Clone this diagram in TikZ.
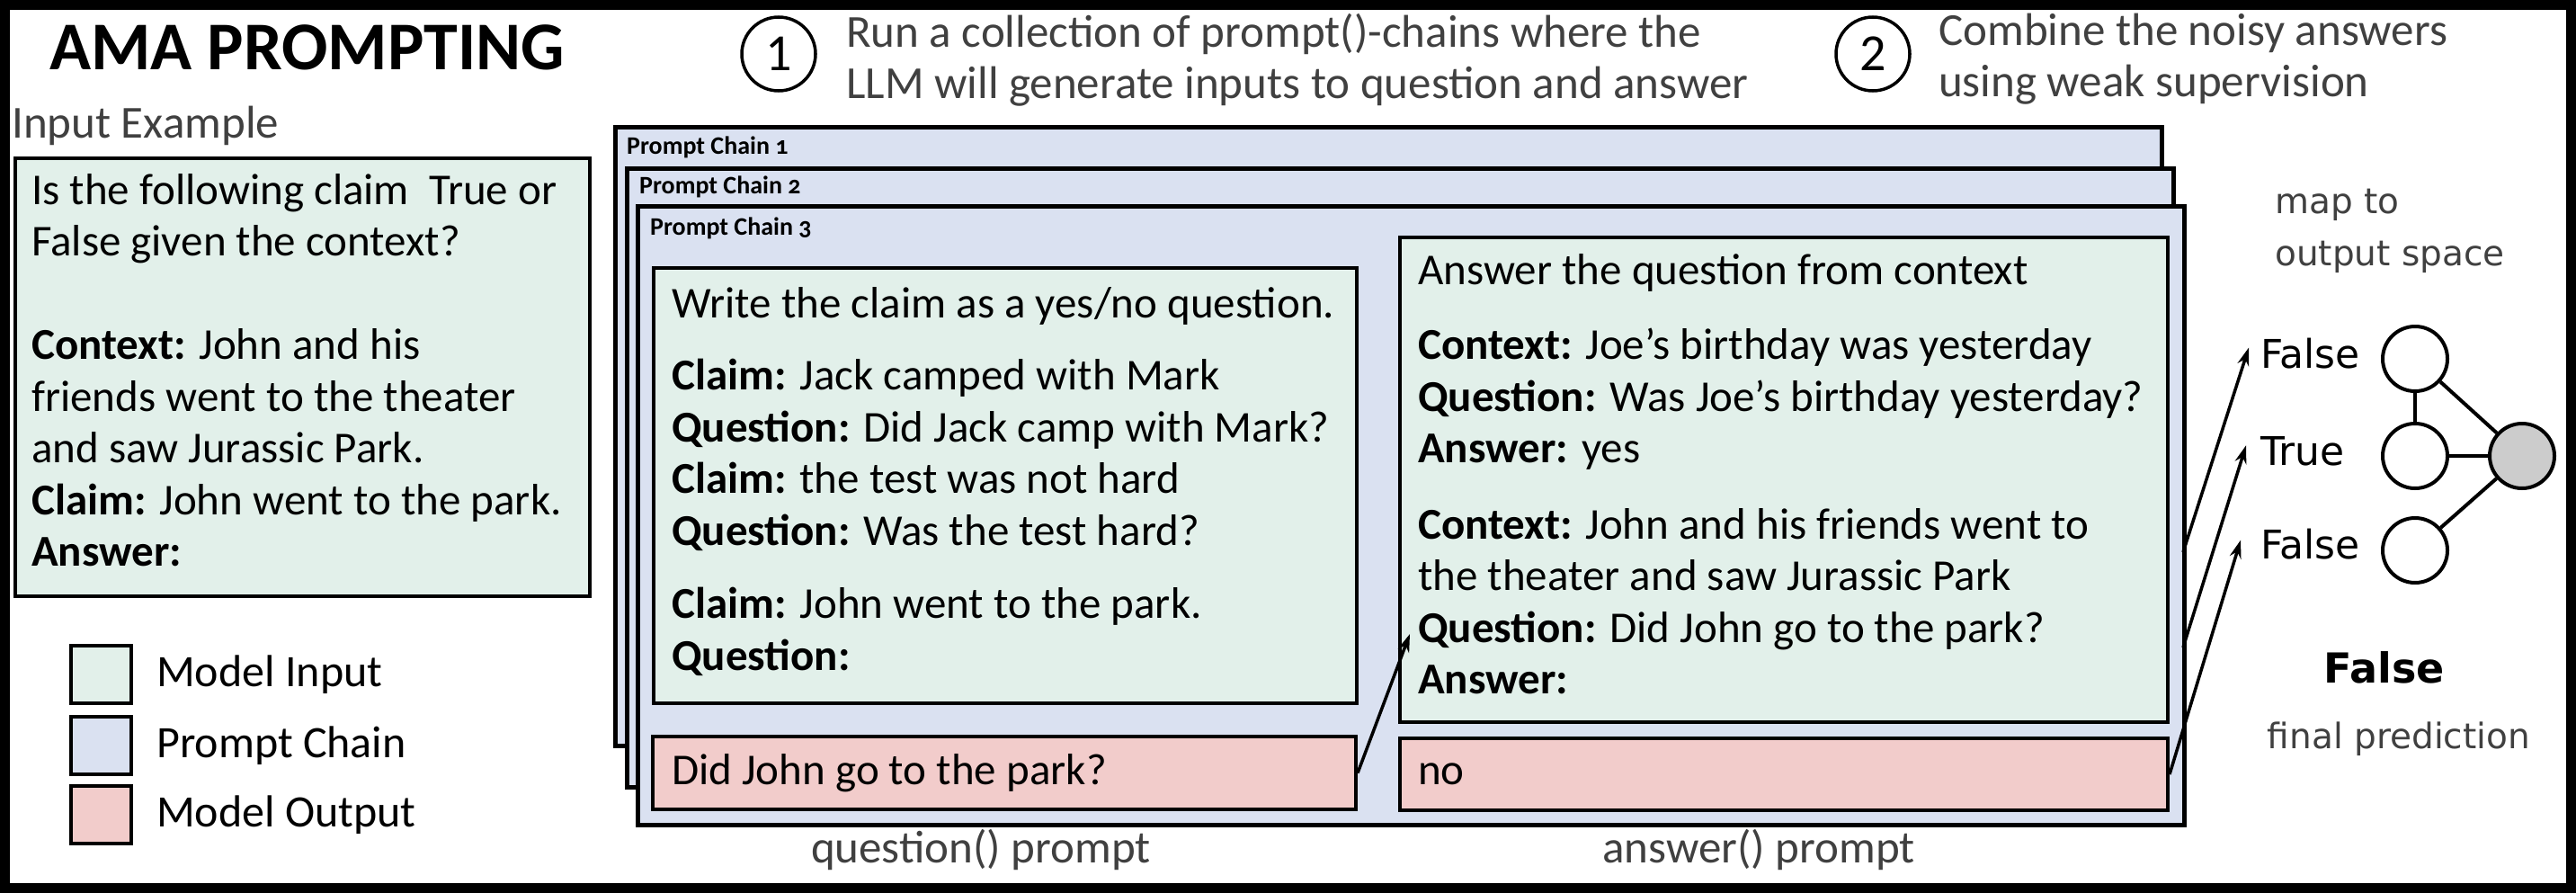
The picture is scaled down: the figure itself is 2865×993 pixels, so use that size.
\documentclass[tikz,border=0pt]{standalone}
\usepackage{fontspec}
\setmainfont{Carlito}
\newfontfamily\dejavu{DejaVu Sans}
\newfontfamily\chainfont[Numbers=OldStyle]{Carlito}
\usetikzlibrary{arrows.meta,positioning,calc}
\definecolor{inputcol}{HTML}{E2F0EA}
\definecolor{chaincol}{HTML}{DAE1F1}
\definecolor{outputcol}{HTML}{F2CCCB}
\definecolor{notecol}{HTML}{404040}
\definecolor{votecol}{HTML}{CCCCCC}
\newcommand{\bodysize}{\fontsize{49}{57.5}\selectfont}

\begin{document}
\begin{tikzpicture}[
  x=1pt, y=-1pt, >={Stealth[length=20pt,width=13pt]},
  txt/.style={font=\bodysize, inner sep=0pt, align=left},
  note/.style={font=\fontsize{51}{57}\selectfont, text=notecol, inner sep=0pt, align=left},
  panel/.style={draw, line width=4pt, anchor=north west, inner sep=0pt},
  inbox/.style={panel, fill=inputcol},
  outbox/.style={panel, fill=outputcol},
  chainbox/.style={panel, line width=4.5pt, fill=chaincol},
  chainlabel/.style={font=\chainfont\bfseries\fontsize{28}{30}\selectfont, inner sep=0pt, anchor=west},
  numcirc/.style={draw, circle, line width=3.5pt, minimum size=82pt, inner sep=0pt, font=\fontsize{58}{58}\selectfont},
  vote/.style={draw, circle, line width=4pt, minimum size=72pt, inner sep=0pt},
  side/.style={font=\dejavu\fontsize{39}{58}\selectfont, text=notecol, inner sep=0pt, align=left},
  lab/.style={font=\dejavu\fontsize{44}{50}\selectfont, inner sep=0pt, anchor=base west},
  flow/.style={->, line width=3.5pt}
]
\useasboundingbox (0,0) rectangle (2865,993);
\draw[line width=11pt] (5.5,5.5) rectangle (2859.5,987.5);

\node[font=\bfseries\fontsize{76}{80}\selectfont, anchor=base west, inner sep=0pt] (title) at (55,77) {AMA PROMPTING};

\node[numcirc] (stepA) at (866,60) {1};
\node[note, anchor=north west] (stepAtext) at (941,15) {Run a collection of prompt()-chains where the\\LLM will generate inputs to question and answer};
\node[numcirc] (stepB) at (2083,60) {2};
\node[note, anchor=north west] (stepBtext) at (2156,15) {Combine the noisy answers\\using weak supervision};

\node[note, anchor=base west] (inputlabel) at (13,153) {Input Example};
\node[inbox, minimum width=639pt, minimum height=487pt] (inputbox) at (15,174) {};
\node[txt, anchor=north west] (inputtext) at ([xshift=20pt,yshift=-19pt]inputbox.north west)
  {Is the following claim~ True or\\False given the context?\\[57.5pt]
   \textbf{Context:} John and his\\friends went to the theater\\and saw Jurassic Park.\\
   \textbf{Claim:} John went to the park.\\\textbf{Answer:}};

\node[inbox, minimum width=67pt, minimum height=64pt] (keyinput) at (77,716) {};
\node[panel, fill=chaincol, minimum width=67pt, minimum height=64pt] (keychain) at (77,795) {};
\node[outbox, minimum width=67pt, minimum height=64pt] (keyoutput) at (77,872) {};
\node[txt, font=\fontsize{50}{55}\selectfont, right=26pt of keyinput] (keyinputlabel) {Model Input};
\node[txt, font=\fontsize{50}{55}\selectfont, right=26pt of keychain] (keychainlabel) {Prompt Chain};
\node[txt, font=\fontsize{50}{55}\selectfont, right=26pt of keyoutput] (keyoutputlabel) {Model Output};

\node[chainbox, minimum width=1720pt, minimum height=688pt] (chainA) at (682,139) {};
\node[chainlabel] (chainAlabel) at ([xshift=15pt,yshift=-25pt]chainA.north west) {Prompt Chain 1};
\node[chainbox, minimum width=1720pt, minimum height=688pt] (chainB) at (695,185) {};
\node[chainlabel] (chainBlabel) at ([xshift=16pt,yshift=-23pt]chainB.north west) {Prompt Chain 2};
\node[chainbox, minimum width=1720pt, minimum height=688pt] (chainC) at (707,227) {};
\node[chainlabel] (chainClabel) at ([xshift=16pt,yshift=-27pt]chainC.north west) {Prompt Chain 3};

\node[inbox, minimum width=782pt, minimum height=484pt] (qbox) at (725,296) {};
\node[txt, anchor=north west] (qtext) at ([xshift=22pt,yshift=-23pt]qbox.north west)
  {Write the claim as a yes/no question.\\[23pt]
   \textbf{Claim:} Jack camped with Mark\\\textbf{Question:} Did Jack camp with Mark?\\
   \textbf{Claim:} the test was not hard\\\textbf{Question:} Was the test hard?\\[24pt]
   \textbf{Claim:} John went to the park.\\\textbf{Question:}};
\node[outbox, minimum width=782pt, minimum height=81pt] (qout) at (724,817) {};
\node[txt, anchor=west] (qouttext) at ([xshift=23pt]qout.west) {Did John go to the park?};

\node[inbox, minimum width=854pt, minimum height=539pt] (abox) at (1555,262) {};
\node[txt, anchor=north west] (atext) at ([xshift=22pt,yshift=-20pt]abox.north west)
  {Answer the question from context\\[26pt]
   \textbf{Context:} Joe’s birthday was yesterday\\\textbf{Question:} Was Joe’s birthday yesterday?\\
   \textbf{Answer:} yes\\[27pt]
   \textbf{Context:} John and his friends went to\\the theater and saw Jurassic Park\\
   \textbf{Question:} Did John go to the park?\\\textbf{Answer:}};
\node[outbox, minimum width=854pt, minimum height=80pt] (aout) at (1555,819) {};
\node[txt, anchor=west] (aouttext) at ([xshift=22pt]aout.west) {no};

\node[note, anchor=base] (qlabel) at (1091,959) {question() prompt};
\node[note, anchor=base] (alabel) at (1956,959) {answer() prompt};

\node[side, anchor=north west] (maplabel) at (2530,210) {map to\\output space};
\node[lab] (labA) at (2514,409) {False};
\node[lab] (labB) at (2514,517) {True};
\node[lab] (labC) at (2514,621) {False};
\node[vote] (voteA) at (2686,399) {};
\node[vote] (voteB) at (2686,507) {};
\node[vote] (voteC) at (2686,612) {};
\node[vote, fill=votecol] (agg) at (2805,507) {};
\node[font=\dejavu\bfseries\fontsize{46}{50}\selectfont, inner sep=0pt] (final) at (2652,742) {False};
\node[side] (finallabel) at (2668,822) {final prediction};

\draw[line width=4pt] (voteA) -- (voteB);
\draw[line width=4pt] (voteA) -- (agg);
\draw[line width=4pt] (voteB) -- (agg);
\draw[line width=4pt] (voteC) -- (agg);

\coordinate (chainAout) at (2428,614);
\coordinate (chainBout) at (2428,720);
\coordinate (qin) at (1568,705);
\draw[flow] (qout.east) -- (qin);
\draw[flow] (chainAout) -- ([xshift=-13pt,yshift=6pt]labA.west);
\draw[flow] (chainBout) -- ([xshift=-16pt,yshift=6pt]labB.west);
\draw[flow] (aout.east) -- ([xshift=-22pt,yshift=4pt]labC.west);
\end{tikzpicture}
\end{document}
